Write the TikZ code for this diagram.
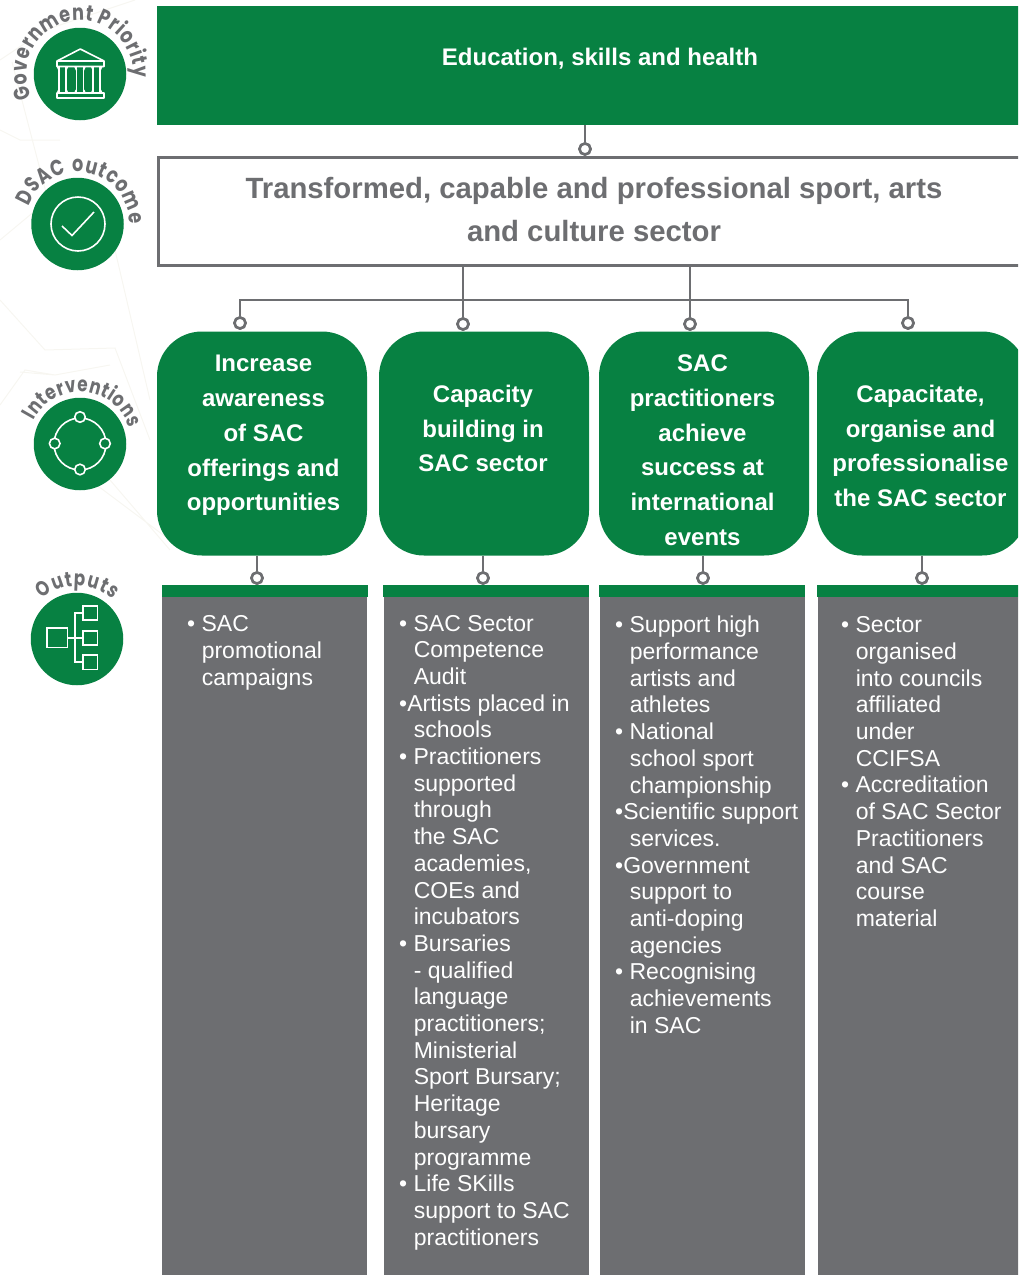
\documentclass[tikz,border=0pt]{standalone}
\usepackage{fontspec}
\setmainfont{Liberation Sans}
\newfontfamily\arcfont[FakeStretch=0.8]{Poppins}
\usetikzlibrary{decorations.text}
\definecolor{sacgreen}{HTML}{078142}
\definecolor{sacgray}{HTML}{6D6E71}
\definecolor{faint}{HTML}{F7F6F1}
\newcommand{\cont}{\hspace*{14.6pt}}
\tikzset{
  x=1pt,y=-1pt,
  greenbox/.style={fill=sacgreen,draw=none,rounded corners=45pt,inner sep=0pt,minimum width=210pt,minimum height=224pt},
  flatgreen/.style={fill=sacgreen,draw=none,inner sep=0pt},
  pillText/.style={text=white,font=\fontsize{24}{34.8}\selectfont\bfseries,align=center,inner sep=0pt},
  column/.style={fill=sacgray,draw=none,inner sep=0pt,minimum width=205pt,minimum height=678pt},
  strip/.style={fill=sacgreen,draw=none,inner sep=0pt,minimum height=12pt},
  colText/.style={text=white,font=\fontsize{23}{26.7}\selectfont,align=left,inner sep=0pt,anchor=north west},
  wire/.style={draw=sacgray,line width=2.8pt},
  term/.style={circle,draw=sacgray,fill=white,line width=2.6pt,inner sep=0pt,minimum size=11pt},
  badge/.style={circle,fill=sacgreen,draw=none,inner sep=0pt,minimum size=92.5pt},
  icon/.style={draw=white,line width=1.6pt},
  bgline/.style={draw=faint,line width=1pt},
}
\newcommand{\arctext}[6]{% cx cy r start end text
  \path[decorate,decoration={text along path,text align=fit to path,
    text={|\arcfont\fontsize{#6}{#6}\selectfont\bfseries\color{sacgray}|#5}}]
    (#1)+({-#3}:#2) arc[start angle={-#3},end angle={-#4},radius=#2];}
\begin{document}
\begin{tikzpicture}
\useasboundingbox (0,0) rectangle (1018,1275);
\clip (0,0) rectangle (1018,1275);
% faint background
\draw[bgline] (0,60)--(45,30)--(135,0) (12,62)--(48,200)--(0,240) (48,200)--(115,250)--(150,400)
 (0,130)--(20,140)--(60,140) (0,300)--(45,350)--(115,348)--(150,440) (20,372)--(55,375)--(110,365)
 (0,405)--(25,370)--(55,375) (110,480)--(170,550) (90,480)--(170,540);
% boxes
\node[flatgreen,minimum width=880pt,minimum height=119pt] (prio) at (597,65.5) {};
\node[text=white,font=\fontsize{24}{30}\selectfont\bfseries,inner sep=0pt] (priotext) at (600,59) {Education, skills and health};
\node[draw=sacgray,line width=3pt,fill=white,inner sep=0pt,minimum width=880pt,minimum height=108pt] (outc) at (598,211) {};
\node[text=sacgray,font=\fontsize{29.3}{43}\selectfont\bfseries,align=center,inner sep=0pt] (outctext) at (594,210) {Transformed, capable and professional sport, arts\\and culture sector};
\node[greenbox] (p1) at (262,443.5) {};
\node[greenbox] (p2) at (484,443.5) {};
\node[greenbox] (p3) at (704,443.5) {};
\node[greenbox] (p4) at (922,443.5) {};
\node[pillText] (t1) at (263.5,435.5) {Increase\\awareness\\of SAC\\offerings and\\opportunities};
\node[pillText] (t2) at (483,428.5) {Capacity\\building in\\SAC sector};
\node[pillText] (t3) at (702.5,450.2) {SAC\\practitioners\\achieve\\success at\\international\\events};
\node[pillText] (t4) at (920.5,446) {Capacitate,\\organise and\\professionalise\\the SAC sector};
% columns
\node[strip,minimum width=206pt] (s1) at (265,591) {};
\node[strip,minimum width=206pt] (s2) at (486,591) {};
\node[strip,minimum width=206pt] (s3) at (702,591) {};
\node[strip,minimum width=206pt] (s4) at (920,591) {};
\node[column] (c1) at (264.5,936) {};
\node[column] (c2) at (486.5,936) {};
\node[column] (c3) at (702.5,936) {};
\node[column] (c4) at (920.5,936) {};
\node[colText] (x1) at (187,615.5) {• SAC\\\cont promotional\\\cont campaigns};
\node[colText] (x2) at (399,614.8) {• SAC Sector\\\cont Competence\\\cont Audit\\•Artists placed in\\\cont schools\\• Practitioners\\\cont supported\\\cont through\\\cont the SAC\\\cont academies,\\\cont COEs and\\\cont incubators\\• Bursaries\\\cont - qualified\\\cont language\\\cont practitioners;\\\cont Ministerial\\\cont Sport Bursary;\\\cont Heritage\\\cont bursary\\\cont programme\\• Life SKills\\\cont support to SAC\\\cont practitioners};
\node[colText] (x3) at (615,616) {• Support high\\\cont performance\\\cont artists and\\\cont athletes\\• National\\\cont school sport\\\cont championship\\•Scientific support\\\cont services.\\•Government\\\cont support to\\\cont anti-doping\\\cont agencies\\• Recognising\\\cont achievements\\\cont in SAC};
\node[colText] (x4) at (841,616.5) {• Sector\\\cont organised\\\cont into councils\\\cont affiliated\\\cont under\\\cont CCIFSA\\• Accreditation\\\cont of SAC Sector\\\cont Practitioners\\\cont and SAC\\\cont course\\\cont material};
% connectors
\node[term] (d0) at (585,149) {};
\draw[wire] (prio.south -| d0) -- (d0);
\node[term] (e1) at (240,323) {};
\node[term] (e2) at (463,324) {};
\node[term] (e3) at (690,324) {};
\node[term] (e4) at (908,323) {};
\coordinate (h) at (240,300);
\draw[wire] (e1) -- (h) -- (h -| e4) -- (e4);
\draw[wire] (outc.south -| e2) -- (e2);
\draw[wire] (outc.south -| e3) -- (e3);
\node[term] (f1) at (257,578) {};
\node[term] (f2) at (483,578) {};
\node[term] (f3) at (703,578) {};
\node[term] (f4) at (922,578) {};
\foreach \n in {1,2,3,4} \draw[wire] (p\n.south -| f\n) -- (f\n);
\foreach \n in {e1,e2,e3,e4,f1,f2,f3,f4,d0} \node[term] at (\n) {};
% badges
\node[badge] (b1) at (80,74) {};
\node[badge] (b2) at (77.5,224) {};
\node[badge] (b3) at (80,444) {};
\node[badge] (b4) at (77,639) {};
\arctext{80,74}{53.5}{206}{-4}{Government Priority}{22}
\arctext{77.5,224}{52}{160}{0}{DSAC outcome}{22}
\arctext{80,444}{52}{153}{18}{Interventions}{21}
\arctext{77,639}{53}{131}{48}{Outputs}{21}
% icon 1: bank
\draw[icon,line join=round] (57,61)--(80.3,49)--(104,61)--cycle (57,61) rectangle (104,66.5) (57,93) rectangle (104,98);
\foreach \cx in {62.5,80,96.7}{
  \draw[icon] (\cx-3.5,67)--(\cx-3.5,93) (\cx+3.5,67)--(\cx+3.5,93);
  \draw[icon] (\cx-5,66.5) .. controls (\cx-4,69) .. (\cx-3.5,70) (\cx+5,66.5) .. controls (\cx+4,69) .. (\cx+3.5,70)
    (\cx-5,93) .. controls (\cx-4,90.5) .. (\cx-3.5,90) (\cx+5,93) .. controls (\cx+4,90.5) .. (\cx+3.5,90);
}
% icon 2: check
\draw[icon] (78,224) circle[radius=27];
\draw[icon] (62,226)--(72,235.5)--(94,212);
% icon 3: ring
\draw[icon] (80,444) circle[radius=26];
\foreach \a/\b in {80/417,54.7/443.5,105/443.5,80/469.5}
  \draw[icon,fill=sacgreen] (\a,\b) circle[radius=5.3];
% icon 4: tree
\draw[icon] (46.7,627.7) rectangle (67.3,647.3);
\draw[icon] (82.7,606) rectangle (97.3,620) (82.7,630.7) rectangle (97.3,645) (82.7,655) rectangle (97.3,669.3);
\draw[icon] (82.7,613)--(74.7,613)--(74.7,662)--(82.7,662) (67.3,637.7)--(82.7,637.7);
\end{tikzpicture}
\end{document}
